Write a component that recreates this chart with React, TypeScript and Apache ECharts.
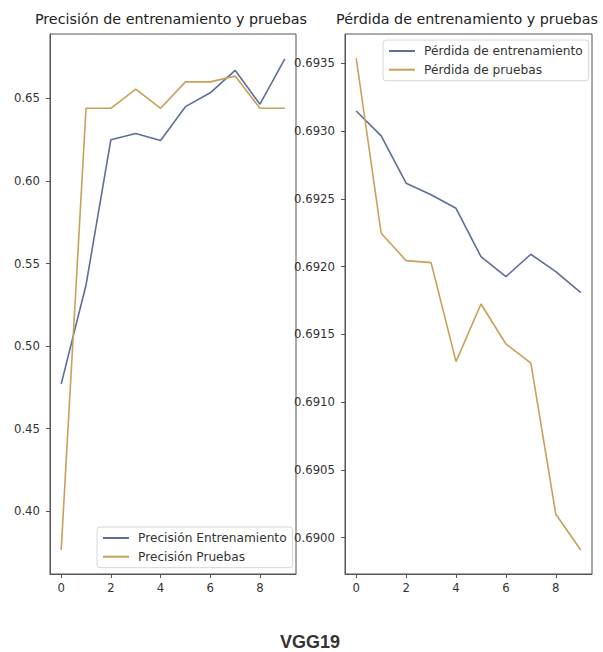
import React, { useEffect, useRef } from "react";
import * as echarts from "echarts";

// Epochs and per-epoch metrics for the VGG19 run
const epochs = [0, 1, 2, 3, 4, 5, 6, 7, 8, 9];
const accTrain = [0.477, 0.537, 0.625, 0.6288, 0.6245, 0.645, 0.6534, 0.667, 0.6465, 0.674];
const accTest = [0.3766, 0.644, 0.644, 0.6556, 0.644, 0.66, 0.66, 0.6635, 0.644, 0.644];
const lossTrain = [0.693148, 0.692964, 0.692615, 0.69253, 0.69243, 0.692073, 0.691926, 0.692091, 0.691963, 0.691808];
const lossTest = [0.693537, 0.692246, 0.692044, 0.692029, 0.691299, 0.691724, 0.691429, 0.691287, 0.690173, 0.689909];

// Tick labels
const xTicks = [0, 2, 4, 6, 8];
const accTicks = [0.4, 0.45, 0.5, 0.55, 0.6, 0.65];
const lossTicks = [0.69, 0.6905, 0.691, 0.6915, 0.692, 0.6925, 0.693, 0.6935];

const accNames = ["Precisión Entrenamiento", "Precisión Pruebas"];
const lossNames = ["Pérdida de entrenamiento", "Pérdida de pruebas"];
const titles = ["Precisión de entrenamiento y pruebas", "Pérdida de entrenamiento y pruebas"];
const caption = "VGG19";

const BLUE = "#5c6f99";
const GOLD = "#c9a05a";
const FONT = "DejaVu Sans";
const AXIS = "#555";
const TEXT = "#333";

const pairs = (ys: number[]) => epochs.map((x, i) => [x, ys[i]]);

export default function App() {
  const ref = useRef<HTMLDivElement>(null);

  useEffect(() => {
    if (!ref.current) return;
    const chart = echarts.init(ref.current, undefined, { renderer: "svg" });

    const xAxisFor = (gridIndex: number) => ({
      type: "value" as const,
      gridIndex,
      min: -0.45,
      max: 9.45,
      splitLine: { show: false },
      axisLine: { show: true, onZero: false, lineStyle: { color: AXIS, width: 1 } },
      axisTick: { show: true, length: 4, customValues: xTicks, lineStyle: { color: AXIS } },
      axisLabel: {
        customValues: xTicks,
        margin: 8,
        color: TEXT,
        fontFamily: FONT,
        fontSize: 11.7,
      },
    });

    const yAxisFor = (gridIndex: number, min: number, max: number, ticks: number[], digits: number) => ({
      type: "value" as const,
      gridIndex,
      min,
      max,
      scale: true,
      splitLine: { show: false },
      axisLine: { show: true, onZero: false, lineStyle: { color: AXIS, width: 1 } },
      axisTick: { show: true, length: 4, customValues: ticks, lineStyle: { color: AXIS } },
      axisLabel: {
        customValues: ticks,
        margin: 10,
        color: TEXT,
        fontFamily: FONT,
        fontSize: 11.7,
        formatter: (v: number) => v.toFixed(digits),
      },
    });

    const lineSeries = (name: string, color: string, ys: number[], idx: number) => ({
      type: "line" as const,
      name,
      xAxisIndex: idx,
      yAxisIndex: idx,
      data: pairs(ys),
      symbol: "none",
      lineStyle: { color, width: 1.6 },
      itemStyle: { color },
    });

    const legendBase = {
      orient: "vertical" as const,
      itemWidth: 26,
      itemHeight: 12,
      itemGap: 6.7,
      padding: [5, 6, 5, 5],
      borderColor: "#d6d6d6",
      borderWidth: 1,
      borderRadius: 3,
      backgroundColor: "rgba(255,255,255,0.85)",
      itemStyle: { opacity: 0 },
      textStyle: { fontFamily: FONT, fontSize: 12.2, color: TEXT, padding: [0, 0, 0, 4] },
    };

    const titleText = (x: number, text: string) => ({
      type: "text" as const,
      x,
      y: 19,
      style: {
        text,
        font: `14.3px "${FONT}"`,
        fill: "#222",
        textAlign: "center",
        textVerticalAlign: "middle",
      },
    });

    chart.setOption({
      animation: false,
      backgroundColor: "#fff",
      grid: [
        { left: 50, right: 307, top: 34, bottom: 78, show: true, borderColor: AXIS, borderWidth: 1 },
        { left: 345, right: 11, top: 34, bottom: 78, show: true, borderColor: AXIS, borderWidth: 1 },
      ],
      xAxis: [xAxisFor(0), xAxisFor(1)],
      yAxis: [
        yAxisFor(0, 0.362, 0.689, accTicks, 2),
        yAxisFor(1, 0.689732, 0.693716, lossTicks, 4),
      ],
      legend: [
        { ...legendBase, data: accNames, left: 97, top: 527 },
        { ...legendBase, data: lossNames, left: 383, top: 40 },
      ],
      series: [
        lineSeries(accNames[0], BLUE, accTrain, 0),
        lineSeries(accNames[1], GOLD, accTest, 0),
        lineSeries(lossNames[0], BLUE, lossTrain, 1),
        lineSeries(lossNames[1], GOLD, lossTest, 1),
      ],
      graphic: [
        titleText(171, titles[0]),
        titleText(467, titles[1]),
        {
          type: "text",
          x: 310,
          y: 642,
          style: {
            text: caption,
            font: `bold 18px "Liberation Sans"`,
            fill: "#333",
            textAlign: "center",
            textVerticalAlign: "middle",
          },
        },
      ],
    });

    return () => chart.dispose();
  }, []);

  return <div ref={ref} style={{ width: 603, height: 652, position: "absolute", left: 0, top: 0 }} />;
}
